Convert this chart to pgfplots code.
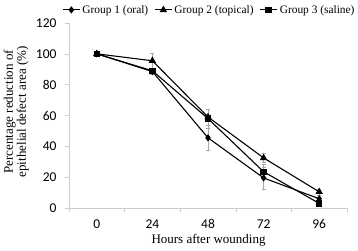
\documentclass[border=0pt]{standalone}
\usepackage{pgfplots}
\pgfplotsset{compat=1.18}
\usepackage{fontspec}
\setmainfont{Liberation Serif}
\newfontfamily\calib{Carlito}
\begin{document}
\begin{tikzpicture}
\path[use as bounding box] (-69pt,-43pt) rectangle (289pt,208pt);
\begin{axis}[
  at={(0pt,0pt)}, anchor=south west,
  scale only axis,
  width=278pt, height=185pt,
  xmin=-0.5, xmax=4.5, ymin=0, ymax=120,
  axis x line*=bottom, axis y line*=left,
  axis line style={draw=gray!40, line width=0.8pt, -},
  xtick={0,1,2,3,4},
  xticklabels={0,24,48,72,96},
  minor xtick={-0.5,0.5,1.5,2.5,3.5,4.5},
  major x tick style={draw=none},
  minor tick length=4pt,
  ytick={0,20,40,60,80,100,120},
  tick align=outside,
  major tick length=4pt,
  tick style={draw=gray!40, line width=0.6pt},
  ticklabel style={font=\calib\fontsize{13.5}{14}\selectfont},
  yticklabel style={xshift=-5pt},
  xticklabel style={yshift=-4pt},
  /pgf/number format/assume math mode=true,
  xlabel={Hours after wounding},
  ylabel={Percentage reduction of\\epithelial defect area (\%)},
  ylabel style={at={(axis description cs:-0.19,0.52)}, anchor=center, align=center, font=\fontsize{13}{13}\selectfont},
  xlabel style={at={(axis description cs:0.502,-0.173)}, anchor=center, font=\fontsize{13}{14}\selectfont},
  legend style={at={(axis description cs:0.505,1.108)}, anchor=north, draw=none, fill=none, legend columns=3,
    font=\fontsize{11.4}{12}\selectfont, inner sep=0pt, /tikz/every even column/.append style={column sep=4pt}},
  error bars/error bar style={draw=gray!70, line width=0.4pt},
  error bars/error mark options={rotate=90, mark size=2pt, draw=gray!70},
  clip=false,
]
\addplot[black, line width=1.1pt, mark=diamond*, mark size=2.8pt,
  error bars/.cd, y dir=both, y explicit]
  coordinates {(0,100) +- (0,0) (1,88.5) +- (0,2) (2,45.5) +- (0,8) (3,19.5) +- (0,7) (4,6) +- (0,2)};
\addlegendentry{Group 1 (oral)}
\addplot[black, line width=1.1pt, mark=triangle*, mark size=3.2pt,
  error bars/.cd, y dir=both, y explicit]
  coordinates {(0,100) +- (0,0) (1,95.5) +- (0,5) (2,59) +- (0,5) (3,32.5) +- (0,3) (4,10.5) +- (0,2)};
\addlegendentry{Group 2 (topical)}
\addplot[black, line width=1.1pt, mark=square*, mark size=2.7pt,
  error bars/.cd, y dir=both, y explicit]
  coordinates {(0,100) +- (0,0) (1,89) +- (0,2) (2,58) +- (0,6) (3,23.5) +- (0,5) (4,3) +- (0,2)};
\addlegendentry{Group 3 (saline)}
\end{axis}
\end{tikzpicture}
\end{document}
